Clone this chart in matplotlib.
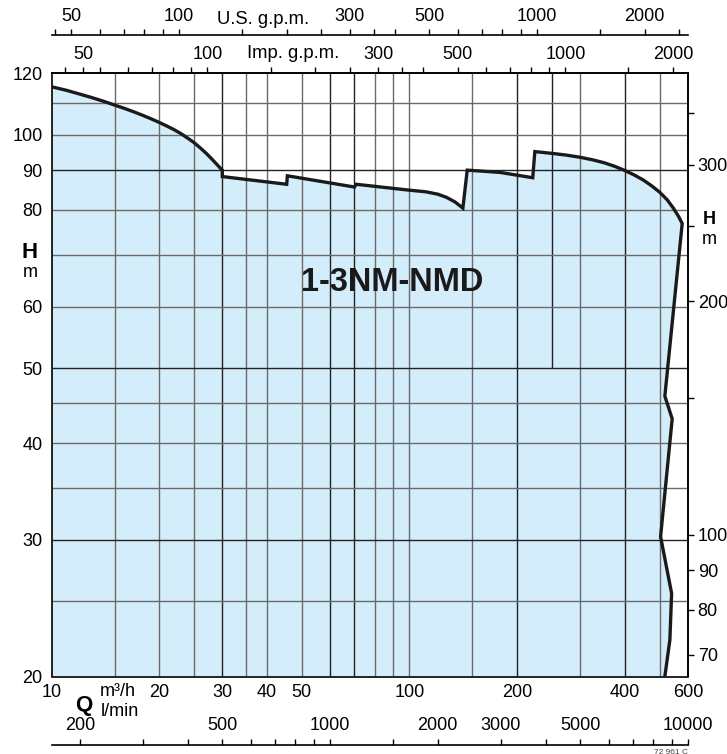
import matplotlib.pyplot as plt
from matplotlib.ticker import FixedLocator, NullFormatter, NullLocator

plt.rcParams['font.family'] = ['Liberation Sans', 'DejaVu Sans']

# envelope of the pump range, Q in m3/h, H in m
q_curve = [10, 11, 12, 13, 14, 15, 16, 17, 18, 19, 20, 21, 22, 23, 24, 25, 26, 27, 28, 29, 30,
           30, 45.4, 45.6, 70.2, 71, 100, 111, 120, 127, 134, 141,
           145, 179, 221, 224, 250, 275, 300, 325, 350, 375, 400, 425, 450, 475, 500, 525, 546, 565, 578,
           517, 542, 503, 540, 534, 517]
h_curve = [115.3, 114.1, 112.8, 111.6, 110.4, 109.2, 108.1, 107.0, 105.9, 104.8, 103.7, 102.6, 101.5, 100.3, 99.0, 97.7, 96.2, 94.7, 93.1, 91.5, 90,
           88.3, 86.3, 88.5, 85.6, 86.3, 84.8, 84.4, 83.8, 83.0, 81.9, 80.4,
           90, 89.4, 88, 95.1, 94.6, 94.1, 93.5, 92.8, 92.0, 91.0, 89.9, 88.7, 87.4, 85.9, 84.3, 82.4, 80.4, 78.4, 76.8,
           46, 43, 30.3, 25.6, 22.3, 20]

# grid
grid_q = [15, 20, 25, 35, 40, 50, 80, 90, 100, 150, 300, 500]
grid_q_dark = [30, 60, 70, 200, 400]
grid_h = [25, 35, 40, 45, 60, 70, 80, 100, 110]
grid_h_dark = [30, 50, 90]

# main axis labels
q_ticks = [10, 20, 30, 40, 50, 100, 200, 400, 600]
h_ticks = [20, 30, 40, 50, 60, 80, 90, 100, 120]

# other units
us_major = [50, 100, 300, 500, 1000, 2000]
us_minor = [45, 60, 70, 80, 90, 150, 200, 250, 350, 400, 600, 700, 800, 900, 1500, 2500]
imp_major = [45, 100, 300, 500, 1000, 2000]
imp_labels = ['50', '100', '300', '500', '1000', '2000']
imp_minor = [40, 50, 60, 70, 80, 90, 150, 200, 250, 350, 400, 600, 700, 800, 900, 1500]
lmin_major = [200, 500, 1000, 2000, 3000, 5000, 10000]
lmin_minor = [300, 400, 600, 700, 800, 900, 1500, 4000, 6000, 7000, 8000, 9000]
ft_major = [70, 80, 90, 100, 200, 300]
ft_minor = [150, 250, 350]

W, H = 727, 754
fig = plt.figure(figsize=(W / 100, H / 100), dpi=100)
ax = fig.add_axes([51.5 / W, 1 - 676.5 / H, 636.5 / W, 603.2 / H])
ax.set_xscale('log')
ax.set_yscale('log')
ax.set_xlim(10, 600)
ax.set_ylim(20, 120)

ax.fill(q_curve + [10], h_curve + [20], color='#d4edfa', lw=0, zorder=1)
ax.vlines(grid_q, 20, 120, color='#6a6a6a', lw=1, zorder=2)
ax.vlines(grid_q_dark, 20, 120, color='#222222', lw=1, zorder=2)
ax.vlines([250], 50, 120, color='#222222', lw=1, zorder=2)
ax.hlines(grid_h, 10, 600, color='#6a6a6a', lw=1, zorder=2)
ax.hlines(grid_h_dark, 10, 600, color='#222222', lw=1, zorder=2)
ax.plot(q_curve, h_curve, color='#1a1a1a', lw=2.4, solid_joinstyle='miter', zorder=3)

for s in ax.spines.values():
    s.set_linewidth(1.2)

ax.xaxis.set_minor_locator(NullLocator())
ax.yaxis.set_minor_locator(NullLocator())
ax.set_xticks(q_ticks, [str(v) for v in q_ticks])
ax.set_yticks(h_ticks, [str(v) for v in h_ticks])
ax.tick_params(axis='x', length=0, pad=5.5, labelsize=13)
ax.tick_params(axis='y', length=0, pad=6.5, labelsize=13)

ax.text(0.536, 0.654, '1-3NM-NMD', transform=ax.transAxes, ha='center', va='center',
        fontsize=23.5, fontweight='bold', color='#1a1a1a')


def style_sec(sec, axis, major, labels, minor, pad):
    a = sec.xaxis if axis == 'x' else sec.yaxis
    a.set_major_locator(FixedLocator(major))
    a.set_ticklabels(labels)
    a.set_minor_locator(FixedLocator(minor))
    a.set_minor_formatter(NullFormatter())
    sec.tick_params(which='both', direction='out', length=4.5, width=1, labelsize=13, pad=pad)
    for s in sec.spines.values():
        s.set_linewidth(1.2)


# U.S. g.p.m. row
us = ax.secondary_xaxis(1 + 38.2 / 603.2, functions=(lambda q: q * 4.4029, lambda g: g / 4.4029))
style_sec(us, 'x', us_major, [str(v) for v in us_major], us_minor, 2.5)

# Imp. g.p.m. row on top spine
imp = ax.secondary_xaxis('top', functions=(lambda q: q * 3.6662, lambda g: g / 3.6662))
style_sec(imp, 'x', imp_major, imp_labels, imp_minor, 3)

# l/min row below
lm = ax.secondary_xaxis(-(745 - 676.5) / 603.2, functions=(lambda q: q * 16.6667, lambda v: v / 16.6667))
lm.set_alignment('top')
style_sec(lm, 'x', lmin_major, [str(v) for v in lmin_major], lmin_minor, 3.5)

# feet on the right
ft = ax.secondary_yaxis('right', functions=(lambda h: h / 0.3048, lambda f: f * 0.3048))
style_sec(ft, 'y', ft_major, [str(v) for v in ft_major], ft_minor, 2.5)

fig.text(263 / W, 1 - 20 / H, 'U.S. g.p.m.', ha='center', va='center', fontsize=13.3)
fig.text(293 / W, 1 - 54 / H, 'Imp. g.p.m.', ha='center', va='center', fontsize=13.3)
fig.text(30 / W, 1 - 252 / H, 'H', ha='center', va='center', fontsize=16, fontweight='bold')
fig.text(30 / W, 1 - 273 / H, 'm', ha='center', va='center', fontsize=13)
fig.text(709 / W, 1 - 219 / H, 'H', ha='center', va='center', fontsize=13, fontweight='bold')
fig.text(709 / W, 1 - 240 / H, 'm', ha='center', va='center', fontsize=13)
fig.text(84 / W, 1 - 706 / H, 'Q', ha='center', va='center', fontsize=16, fontweight='bold')
fig.text(100 / W, 1 - 692 / H, 'm³/h', ha='left', va='center', fontsize=13)
fig.text(101 / W, 1 - 712 / H, 'l/min', ha='left', va='center', fontsize=13)
fig.text(688 / W, 1 - 752 / H, '72 961 C', ha='right', va='center', fontsize=6, color='#444444')

fig.savefig('out.png', dpi=100)
